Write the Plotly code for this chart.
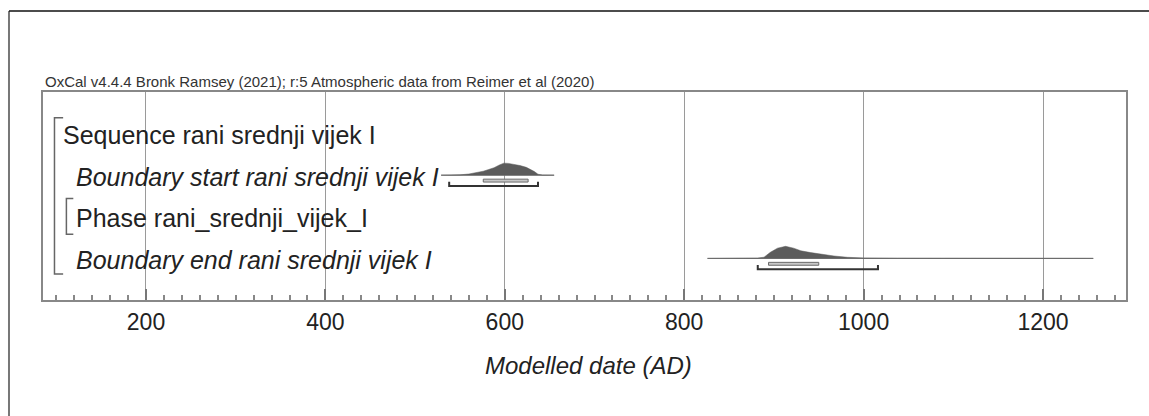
import plotly.graph_objects as go

# ---------------- data ----------------
row_labels = ["Sequence rani srednji vijek I",
              "Boundary start rani srednji vijek I",
              "Phase rani_srednji_vijek_I",
              "Boundary end rani srednji vijek I"]
row_italic = [False, True, False, True]

start_years = [529, 540, 550, 560, 568, 576, 582, 588, 594, 599, 604, 610, 617, 624, 629, 633, 637, 642, 655]
start_dens = [0, 0.005, 0.03, 0.1, 0.2, 0.33, 0.47, 0.62, 0.85, 1.0, 0.98, 0.92, 0.8, 0.65, 0.48, 0.3, 0.08, 0.01, 0]
start_68 = [576, 626]
start_95 = [538, 637]

end_years = [826, 870, 882, 889, 896, 904, 913, 922, 930, 941, 952, 967, 982, 1000, 1038, 1100, 1256]
end_dens = [0, 0.005, 0.03, 0.1, 0.5, 0.85, 1.0, 0.85, 0.63, 0.48, 0.35, 0.2, 0.09, 0.04, 0.015, 0.003, 0]
end_68 = [894, 950]
end_95 = [882, 1016]

tick_vals = [200, 400, 600, 800, 1000, 1200]
tick_text = ["200", "400", "600", "800", "1000", "1200"]

header = "OxCal v4.4.4 Bronk Ramsey (2021); r:5 Atmospheric data from Reimer et al (2020)"
x_title = "Modelled date (AD)"

# ---------------- styling ----------------
FONT = "Liberation Sans, Arial, Helvetica, sans-serif"
DIST_H = 0.29      # peak height in row units
Y68 = 0.13
Y95 = 0.26
TICK95 = 0.1

fig = go.Figure()

dists = [(1, start_years, start_dens, start_68, start_95),
         (3, end_years, end_dens, end_68, end_95)]

shapes = []
for row, yrs, dens, r68, r95 in dists:
    # baseline
    fig.add_trace(go.Scatter(x=[yrs[0], yrs[-1]], y=[row, row], mode="lines",
                             line=dict(color="#8a8a8a", width=1), hoverinfo="skip"))
    # filled distribution
    px = list(yrs) + list(yrs[::-1])
    py = [row - DIST_H * d for d in dens] + [row] * len(yrs)
    fig.add_trace(go.Scatter(x=px, y=py, mode="lines", fill="toself",
                             fillcolor="#5c5c5c", line=dict(color="#5c5c5c", width=0.5),
                             hoverinfo="skip"))
    # 68% range (outlined bar)
    shapes.append(dict(type="rect", xref="x", yref="y", x0=r68[0], x1=r68[1],
                       y0=row + Y68 - 0.035, y1=row + Y68 + 0.035,
                       line=dict(color="#6a6a6a", width=1), fillcolor="#c8c8c8", layer="above"))
    # 95% range with end ticks
    fig.add_trace(go.Scatter(x=[r95[0], r95[0], r95[1], r95[1]],
                             y=[row + Y95 - TICK95, row + Y95, row + Y95, row + Y95 - TICK95],
                             mode="lines", line=dict(color="#333333", width=2),
                             hoverinfo="skip"))

# brackets (sequence & phase)
def bracket(x0, x1, y0, y1, w=1.5):
    return dict(type="path", xref="paper", yref="y",
                path=f"M {x1},{y0} L {x0},{y0} L {x0},{y1} L {x1},{y1}",
                line=dict(color="#666666", width=w))

shapes.append(bracket(0.0106, 0.0186, -0.384, 3.378))
shapes.append(bracket(0.0216, 0.0280, 1.56, 2.42))

# outer frame lines
shapes.append(dict(type="line", xref="paper", yref="paper", x0=-0.0314, x1=-0.0314,
                   y0=1.389, y1=-0.6, line=dict(color="#777777", width=2)))
shapes.append(dict(type="line", xref="paper", yref="paper", x0=-0.0314, x1=1.03,
                   y0=1.389, y1=1.389, line=dict(color="#111111", width=1.5)))

annotations = []
label_x = [0.0170, 0.0283, 0.0283, 0.0283]
for i, (lab, it) in enumerate(zip(row_labels, row_italic)):
    annotations.append(dict(text=f"<i>{lab}</i>" if it else lab, xref="paper", yref="y",
                            x=label_x[i], y=i + 0.04, xanchor="left", yanchor="middle",
                            showarrow=False, font=dict(family=FONT, size=25, color="#222222")))
annotations.append(dict(text=header, xref="paper", yref="paper", x=0.0, y=1.0,
                        xanchor="left", yanchor="bottom", showarrow=False,
                        font=dict(family=FONT, size=15, color="#333333")))
annotations.append(dict(text=f"<i>{x_title}</i>", xref="paper", yref="paper",
                        x=0.504, y=-0.313, xanchor="center", yanchor="middle",
                        showarrow=False, font=dict(family=FONT, size=24, color="#222222")))

fig.update_layout(
    width=1149, height=416,
    margin=dict(l=43, r=23, t=92, b=116),
    paper_bgcolor="white", plot_bgcolor="white",
    showlegend=False,
    shapes=shapes, annotations=annotations,
    xaxis=dict(range=[85.2, 1292.5], tickvals=tick_vals, ticktext=tick_text,
               showgrid=True, gridcolor="#9a9a9a", gridwidth=1,
               ticks="inside", ticklen=11, tickcolor="#777777", tickwidth=1.5,
               minor=dict(dtick=20, tick0=0, ticks="inside", ticklen=5,
                          tickcolor="#888888", showgrid=False),
               showline=True, mirror=True, linecolor="#888888", linewidth=2,
               zeroline=False, tickfont=dict(family=FONT, size=23, color="#222222")),
    yaxis=dict(range=[4, -1], showgrid=False, zeroline=False, showticklabels=False,
               ticks="", showline=True, mirror=True, linecolor="#888888", linewidth=2),
)

fig.write_html("out.html")
